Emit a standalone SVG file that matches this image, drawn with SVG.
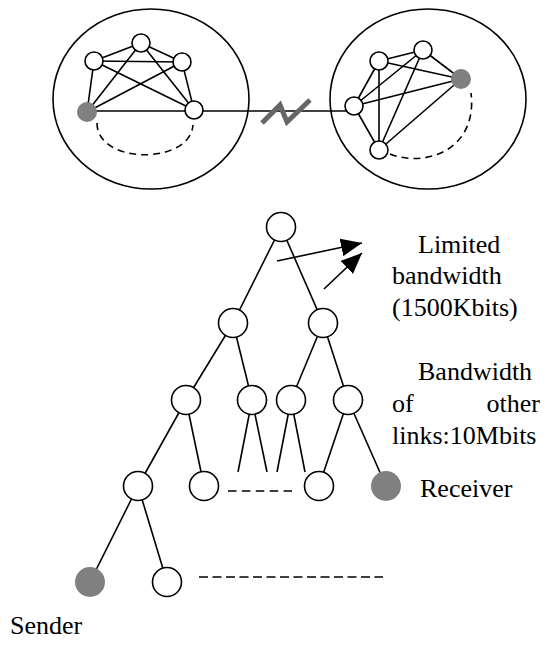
<svg xmlns="http://www.w3.org/2000/svg" width="546" height="650" viewBox="0 0 546 650">
<defs>
<marker id="ah" markerUnits="userSpaceOnUse" markerWidth="21" markerHeight="18" refX="21" refY="9" orient="auto">
<path d="M0,0 L21,9 L0,18 z" fill="#000"/>
</marker>
</defs>
<style>
.e{stroke:#000;stroke-width:1.6;fill:none}
.d{stroke:#000;stroke-width:1.6;fill:none;stroke-dasharray:7 5}
.n{fill:#fff;stroke:#000;stroke-width:1.6}
.g{fill:#808080;stroke:none}
.big{fill:none;stroke:#000;stroke-width:1.6}
text{font-family:"Liberation Serif","Times New Roman",serif;font-size:26px;fill:#000}
</style>
<rect width="546" height="650" fill="#fff"/>
<g id="cluster-left-boundary"><ellipse class="big" cx="151" cy="99" rx="98" ry="90"/></g>
<g id="cluster-right-boundary"><ellipse class="big" cx="428" cy="99" rx="98" ry="90"/></g>
<g id="connectors">
<line class="e" x1="141" y1="43" x2="94" y2="61"/>
<line class="e" x1="141" y1="43" x2="182" y2="62"/>
<line class="e" x1="141" y1="43" x2="87" y2="112"/>
<line class="e" x1="141" y1="43" x2="194" y2="110"/>
<line class="e" x1="94" y1="61" x2="182" y2="62"/>
<line class="e" x1="94" y1="61" x2="87" y2="112"/>
<line class="e" x1="94" y1="61" x2="194" y2="110"/>
<line class="e" x1="182" y1="62" x2="87" y2="112"/>
<line class="e" x1="182" y1="62" x2="194" y2="110"/>
<line class="e" x1="87" y1="111" x2="194" y2="111"/>
<path class="d" d="M97,123 C97,165 190,165 193,125"/>
<line class="e" x1="194" y1="111" x2="350" y2="111"/>
<polyline points="262,123 280,105 287,122 310,100" fill="none" stroke="#666" stroke-width="5"/>
<line class="e" x1="354" y1="106" x2="379" y2="61"/>
<line class="e" x1="354" y1="106" x2="423" y2="50"/>
<line class="e" x1="354" y1="106" x2="461" y2="79"/>
<line class="e" x1="354" y1="106" x2="379" y2="150"/>
<line class="e" x1="379" y1="61" x2="423" y2="50"/>
<line class="e" x1="379" y1="61" x2="461" y2="79"/>
<line class="e" x1="379" y1="61" x2="379" y2="150"/>
<line class="e" x1="423" y1="50" x2="461" y2="79"/>
<line class="e" x1="423" y1="50" x2="379" y2="150"/>
<line class="e" x1="461" y1="79" x2="379" y2="150"/>
<path class="d" d="M390,154 C425,168 478,150 471,93"/>
<line class="e" x1="281" y1="227" x2="233" y2="323"/>
<line class="e" x1="281" y1="227" x2="323" y2="323"/>
<line class="e" x1="233" y1="323" x2="186" y2="400"/>
<line class="e" x1="233" y1="323" x2="252" y2="400"/>
<line class="e" x1="323" y1="323" x2="291" y2="400"/>
<line class="e" x1="323" y1="323" x2="348" y2="400"/>
<line class="e" x1="252" y1="400" x2="238" y2="472"/>
<line class="e" x1="252" y1="400" x2="267" y2="472"/>
<line class="e" x1="291" y1="400" x2="277" y2="472"/>
<line class="e" x1="291" y1="400" x2="305" y2="472"/>
<line class="e" x1="186" y1="400" x2="138" y2="486"/>
<line class="e" x1="186" y1="400" x2="204" y2="486"/>
<line class="e" x1="348" y1="400" x2="319" y2="486"/>
<line class="e" x1="348" y1="400" x2="386" y2="486"/>
<line class="e" x1="138" y1="486" x2="90" y2="582"/>
<line class="e" x1="138" y1="486" x2="167" y2="582"/>
<line class="e" x1="228" y1="491" x2="292" y2="491" style="stroke-dasharray:8.5 5.4"/>
<line class="e" x1="199" y1="577" x2="383" y2="577" style="stroke-dasharray:9 4.5"/>
<line class="e" x1="277" y1="261" x2="362" y2="243" marker-end="url(#ah)"/>
<line class="e" x1="324" y1="289" x2="362" y2="253" marker-end="url(#ah)"/>
</g>
<g id="left-cluster-nodes">
<circle class="n" cx="141" cy="43" r="9"/>
<circle class="n" cx="94" cy="61" r="9"/>
<circle class="n" cx="182" cy="62" r="9"/>
<circle class="g" cx="87" cy="112" r="10"/>
<circle class="n" cx="194" cy="110" r="9"/>
</g>
<g id="right-cluster-nodes">
<circle class="n" cx="354" cy="106" r="9"/>
<circle class="n" cx="379" cy="61" r="9"/>
<circle class="n" cx="423" cy="50" r="9"/>
<circle class="g" cx="461" cy="79" r="10"/>
<circle class="n" cx="379" cy="150" r="9"/>
</g>
<g id="tree-nodes">
<circle class="n" cx="281" cy="227" r="14.5"/>
<circle class="n" cx="233" cy="323" r="14.5"/>
<circle class="n" cx="323" cy="323" r="14.5"/>
<circle class="n" cx="186" cy="400" r="14.5"/>
<circle class="n" cx="252" cy="400" r="14.5"/>
<circle class="n" cx="291" cy="400" r="14.5"/>
<circle class="n" cx="348" cy="400" r="14.5"/>
<circle class="n" cx="138" cy="486" r="14.5"/>
<circle class="n" cx="204" cy="486" r="14.5"/>
<circle class="n" cx="319" cy="486" r="14.5"/>
<circle class="g" cx="386" cy="486" r="15"/>
<circle class="g" cx="90" cy="582" r="15"/>
<circle class="n" cx="167" cy="582" r="14.5"/>
</g>
<g id="labels">
<text x="418" y="253">Limited</text>
<text x="392" y="284">bandwidth</text>
<text x="392" y="316">(1500Kbits)</text>
<text x="418" y="380">Bandwidth</text>
<text x="392" y="412">of</text>
<text x="540" y="412" text-anchor="end">other</text>
<text x="392" y="444">links:10Mbits</text>
<text x="420" y="497">Receiver</text>
<text x="10" y="634">Sender</text>
</g>
</svg>
